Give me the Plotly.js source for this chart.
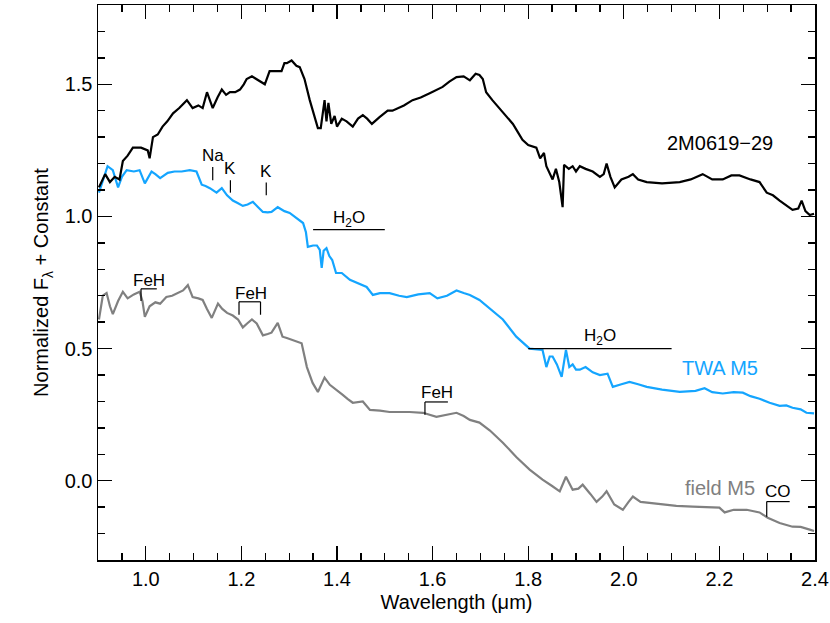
<!DOCTYPE html>
<html>
<head>
<meta charset="utf-8">
<script src="https://cdn.plot.ly/plotly-3.0.1.min.js"></script>
<style>html,body{margin:0;padding:0;background:#fff;}#chart{width:830px;height:623px;}</style>
</head>
<body>
<div id="chart"></div>
<script>
// 2M0619-29 spectrum (wavelength in micron, normalized flux + constant)
const wlBlack = [0.902,0.915,0.925,0.935,0.945,0.952,0.962,0.973,0.990,1.004,1.008,1.015,1.025,1.035,1.045,1.057,1.070,1.086,1.098,1.110,1.119,1.128,1.134,1.140,1.150,1.159,1.168,1.176,1.187,1.197,1.205,1.211,1.222,1.232,1.249,1.259,1.270,1.284,1.290,1.295,1.305,1.315,1.322,1.332,1.343,1.353,1.360,1.366,1.370,1.374,1.378,1.382,1.388,1.395,1.400,1.410,1.420,1.433,1.444,1.454,1.463,1.473,1.489,1.506,1.516,1.540,1.558,1.575,1.594,1.610,1.621,1.635,1.650,1.665,1.678,1.690,1.698,1.705,1.712,1.725,1.740,1.755,1.768,1.778,1.788,1.800,1.817,1.825,1.833,1.838,1.845,1.851,1.858,1.865,1.872,1.875,1.885,1.893,1.900,1.908,1.920,1.935,1.950,1.958,1.964,1.972,1.981,1.995,2.010,2.019,2.030,2.048,2.080,2.117,2.140,2.165,2.185,2.207,2.225,2.242,2.265,2.284,2.299,2.312,2.326,2.340,2.353,2.365,2.372,2.380,2.389,2.398];
const fxBlack = [1.11,1.16,1.13,1.15,1.14,1.21,1.23,1.26,1.26,1.25,1.22,1.30,1.31,1.34,1.36,1.39,1.41,1.44,1.41,1.42,1.41,1.47,1.44,1.41,1.45,1.48,1.46,1.47,1.47,1.48,1.50,1.52,1.53,1.52,1.50,1.55,1.55,1.55,1.58,1.58,1.59,1.57,1.565,1.52,1.44,1.376,1.334,1.334,1.40,1.44,1.36,1.43,1.35,1.38,1.34,1.37,1.36,1.34,1.37,1.383,1.37,1.35,1.376,1.40,1.40,1.42,1.44,1.45,1.466,1.48,1.49,1.51,1.527,1.53,1.515,1.54,1.535,1.52,1.47,1.44,1.41,1.38,1.35,1.32,1.29,1.27,1.26,1.22,1.24,1.19,1.16,1.14,1.18,1.13,1.035,1.195,1.18,1.19,1.17,1.19,1.18,1.17,1.15,1.16,1.20,1.15,1.11,1.14,1.15,1.16,1.14,1.13,1.125,1.13,1.14,1.16,1.14,1.14,1.155,1.155,1.14,1.13,1.09,1.08,1.06,1.04,1.025,1.03,1.06,1.02,1.005,1.01];

// TWA M5 spectrum
const wlTWA = [0.902,0.912,0.920,0.931,0.942,0.950,0.960,0.975,0.987,0.998,1.012,1.020,1.030,1.046,1.060,1.075,1.092,1.106,1.117,1.125,1.134,1.148,1.159,1.170,1.182,1.193,1.203,1.213,1.224,1.235,1.245,1.255,1.263,1.276,1.290,1.301,1.315,1.329,1.335,1.339,1.350,1.358,1.364,1.368,1.372,1.378,1.384,1.390,1.398,1.410,1.427,1.445,1.462,1.475,1.490,1.510,1.530,1.546,1.570,1.594,1.610,1.630,1.650,1.665,1.678,1.698,1.720,1.747,1.775,1.790,1.803,1.830,1.838,1.845,1.851,1.860,1.870,1.879,1.886,1.893,1.900,1.908,1.920,1.935,1.950,1.966,1.977,1.995,2.012,2.030,2.048,2.080,2.117,2.150,2.169,2.185,2.207,2.230,2.249,2.265,2.284,2.305,2.326,2.340,2.353,2.370,2.382,2.398];
const fxTWA = [1.09,1.15,1.19,1.175,1.11,1.15,1.175,1.17,1.175,1.125,1.17,1.16,1.145,1.165,1.17,1.17,1.175,1.17,1.12,1.115,1.107,1.09,1.107,1.08,1.06,1.05,1.04,1.045,1.055,1.035,1.017,1.015,1.017,1.035,1.02,1.013,0.995,0.975,0.94,0.885,0.89,0.89,0.873,0.805,0.87,0.88,0.85,0.835,0.786,0.786,0.76,0.745,0.733,0.703,0.71,0.71,0.70,0.695,0.705,0.71,0.69,0.70,0.72,0.71,0.703,0.684,0.65,0.61,0.545,0.52,0.50,0.495,0.43,0.47,0.47,0.44,0.393,0.495,0.43,0.44,0.42,0.42,0.43,0.41,0.40,0.405,0.355,0.365,0.374,0.365,0.355,0.345,0.336,0.34,0.35,0.335,0.33,0.335,0.333,0.32,0.31,0.295,0.283,0.285,0.276,0.27,0.257,0.255];

// field M5 spectrum
const wlField = [0.902,0.910,0.918,0.925,0.931,0.942,0.952,0.962,0.975,0.987,0.993,0.998,1.008,1.020,1.030,1.043,1.055,1.065,1.078,1.088,1.098,1.110,1.119,1.128,1.138,1.151,1.160,1.170,1.182,1.193,1.203,1.212,1.222,1.232,1.245,1.255,1.263,1.276,1.286,1.295,1.305,1.315,1.326,1.337,1.349,1.360,1.368,1.374,1.385,1.400,1.412,1.422,1.433,1.454,1.469,1.490,1.510,1.552,1.580,1.608,1.630,1.650,1.665,1.678,1.698,1.720,1.747,1.775,1.803,1.830,1.850,1.866,1.879,1.893,1.905,1.914,1.930,1.943,1.955,1.964,1.980,1.998,2.010,2.019,2.035,2.048,2.080,2.110,2.144,2.175,2.200,2.211,2.230,2.257,2.275,2.284,2.301,2.315,2.326,2.353,2.370,2.389,2.398];
const fxField = [0.61,0.70,0.71,0.66,0.63,0.68,0.715,0.69,0.705,0.715,0.68,0.62,0.66,0.675,0.67,0.695,0.70,0.71,0.72,0.74,0.695,0.69,0.684,0.65,0.616,0.67,0.65,0.635,0.625,0.61,0.58,0.595,0.61,0.595,0.55,0.555,0.56,0.597,0.545,0.54,0.533,0.525,0.52,0.43,0.37,0.336,0.37,0.39,0.363,0.34,0.325,0.31,0.295,0.30,0.268,0.265,0.26,0.26,0.257,0.242,0.25,0.257,0.245,0.23,0.22,0.19,0.144,0.09,0.042,0.004,-0.02,-0.04,0.015,-0.034,-0.03,-0.015,-0.05,-0.08,-0.06,-0.04,-0.09,-0.11,-0.08,-0.06,-0.08,-0.083,-0.09,-0.095,-0.098,-0.10,-0.102,-0.12,-0.11,-0.11,-0.115,-0.12,-0.14,-0.15,-0.16,-0.174,-0.175,-0.185,-0.19];

const xTicks = [1.0,1.2,1.4,1.6,1.8,2.0,2.2,2.4];
const yTicks = [0.0,0.5,1.0,1.5];

const FONT = "Liberation Sans, Arial, Helvetica, sans-serif";
const BLUE = "#14a5ff";
const GRAY = "#808080";

const traces = [
  {x: wlField, y: fxField, mode: "lines", line: {color: GRAY, width: 2.2, shape: "linear"}, hoverinfo: "skip"},
  {x: wlTWA, y: fxTWA, mode: "lines", line: {color: BLUE, width: 2.2, shape: "linear"}, hoverinfo: "skip"},
  {x: wlBlack, y: fxBlack, mode: "lines", line: {color: "#000", width: 2.2, shape: "linear"}, hoverinfo: "skip"}
];

function seg(x0, y0, x1, y1) {
  return {type: "line", xref: "x", yref: "y", x0: x0, y0: y0, x1: x1, y1: y1, line: {color: "#000", width: 1.2}};
}
const shapes = [
  seg(1.14, 1.137, 1.14, 1.187),          // Na
  seg(1.177, 1.09, 1.177, 1.137),          // K
  seg(1.252, 1.08, 1.252, 1.128),          // K
  seg(1.35, 0.95, 1.50, 0.95),             // H2O
  seg(1.80, 0.50, 2.10, 0.50),             // H2O
  seg(0.99, 0.68, 0.99, 0.726), seg(0.99, 0.726, 1.023, 0.726),   // FeH
  seg(1.195, 0.628, 1.195, 0.677), seg(1.195, 0.677, 1.24, 0.677), seg(1.24, 0.677, 1.24, 0.628), // FeH
  seg(1.584, 0.25, 1.584, 0.298), seg(1.584, 0.298, 1.632, 0.298), // FeH
  seg(2.299, -0.136, 2.299, -0.079), seg(2.299, -0.079, 2.347, -0.079) // CO
];

function lab(x, y, t, size, color) {
  return {x: x, y: y, xref: "x", yref: "y", text: t, showarrow: false,
          font: {family: FONT, size: size, color: color || "#000"}, xanchor: "center", yanchor: "middle"};
}
const annotations = [
  lab(2.201, 1.277, "2M0619\u221229", 20),
  lab(2.201, 0.427, "TWA M5", 20, BLUE),
  lab(2.201, -0.026, "field M5", 20, GRAY),
  lab(1.14, 1.23, "Na", 17),
  lab(1.177, 1.18, "K", 17),
  lab(1.252, 1.17, "K", 17),
  lab(1.425, 0.99, "H<sub>2</sub>O", 17),
  lab(1.95, 0.545, "H<sub>2</sub>O", 17),
  lab(1.007, 0.757, "FeH", 17),
  lab(1.22, 0.709, "FeH", 17),
  lab(1.61, 0.332, "FeH", 17),
  lab(2.323, -0.04, "CO", 17)
];

const layout = {
  width: 830, height: 623,
  margin: {l: 98, r: 15, t: 5, b: 63},
  paper_bgcolor: "#fff", plot_bgcolor: "#fff",
  showlegend: false,
  font: {family: FONT, size: 20, color: "#000"},
  xaxis: {
    range: [0.9, 2.4], tickvals: xTicks, ticktext: xTicks.map(v => v.toFixed(1)),
    ticks: "inside", ticklen: 14, tickwidth: 1.3, tickcolor: "#000",
    minor: {dtick: 0.05, tick0: 0.9, ticks: "inside", ticklen: 7, tickwidth: 1.3, tickcolor: "#000", showgrid: false},
    showline: true, linewidth: 1.5, linecolor: "#000", mirror: "ticks",
    showgrid: false, zeroline: false,
    tickfont: {family: FONT, size: 20},
    title: {text: "Wavelength (\u03bcm)", font: {family: FONT, size: 20}, standoff: 6}
  },
  yaxis: {
    range: [-0.3, 1.8], tickvals: yTicks, ticktext: yTicks.map(v => v.toFixed(1)),
    ticks: "inside", ticklen: 14, tickwidth: 1.3, tickcolor: "#000",
    minor: {dtick: 0.1, tick0: 0, ticks: "inside", ticklen: 7, tickwidth: 1.3, tickcolor: "#000", showgrid: false},
    showline: true, linewidth: 1.5, linecolor: "#000", mirror: "ticks",
    showgrid: false, zeroline: false,
    tickfont: {family: FONT, size: 20},
    title: {text: "Normalized F<sub>\u03bb</sub> + Constant", font: {family: FONT, size: 20}, standoff: 10}
  },
  shapes: shapes,
  annotations: annotations
};

Plotly.newPlot("chart", traces, layout, {displayModeBar: false, staticPlot: true});
</script>
</body>
</html>
